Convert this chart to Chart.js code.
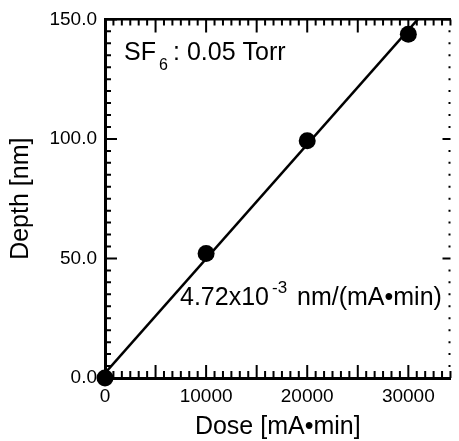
<!DOCTYPE html>
<html>
<head>
<meta charset="utf-8">
<script src="https://cdn.jsdelivr.net/npm/chart.js@4"></script>
<style>
html,body{margin:0;padding:0;background:#fff;}
canvas{display:block;}
</style>
</head>
<body>
<canvas id="c" width="459" height="441"></canvas>
<script>
// ---- data ----
const doseValues  = [0, 10000, 20000, 30000];
const depthValues = [0, 52.1, 99.2, 143.8];
// fitted line (end points)
const fitDose  = [0, 30930];
const fitDepth = [2.0, 150];
// axis ticks
const xTickValues = [0, 10000, 20000, 30000];
const xTickLabels = ['0', '10000', '20000', '30000'];
const yTickValues = [0, 50, 100, 150];
const yTickLabels = ['0.0', '50.0', '100.0', '150.0'];
const xTitle = 'Dose [mA•min]';
const yTitle = 'Depth [nm]';
const X_MIN = 0, X_MAX = 34170, Y_MIN = 0, Y_MAX = 150;
const X_MAJOR_STEP = 5000, X_MINOR_PER_MAJOR = 6;
const Y_MAJOR_STEP = 50, Y_MINOR_STEP = 5;

const FAMILY = "'Liberation Sans', Arial, Helvetica, sans-serif";
Chart.defaults.font.family = FAMILY;
Chart.defaults.color = '#000';

const points = doseValues.map((d, i) => ({x: d, y: depthValues[i]}));
const fitLine = fitDose.map((d, i) => ({x: d, y: fitDepth[i]}));

// inward tick marks on all four sides, positioned through the chart scales
const tickMarks = {
  id: 'tickMarks',
  beforeDatasetsDraw(chart) {
    const {ctx, chartArea: a, scales: {x, y}} = chart;
    ctx.save();
    ctx.strokeStyle = '#000';
    ctx.lineWidth = 2;
    ctx.beginPath();
    const xStep = X_MAJOR_STEP / X_MINOR_PER_MAJOR;
    const nx = Math.floor((X_MAX - X_MIN) / xStep + 1e-9);
    for (let i = 0; i <= nx; i++) {
      const px = x.getPixelForValue(X_MIN + i * xStep);
      const major = i % X_MINOR_PER_MAJOR === 0;
      ctx.moveTo(px, a.bottom); ctx.lineTo(px, a.bottom - (major ? 13 : 7));
      ctx.moveTo(px, a.top);    ctx.lineTo(px, a.top + (major ? 13 : 6));
    }
    const ny = Math.round((Y_MAX - Y_MIN) / Y_MINOR_STEP);
    for (let j = 0; j <= ny; j++) {
      const v = Y_MIN + j * Y_MINOR_STEP;
      const py = y.getPixelForValue(v);
      const major = v % Y_MAJOR_STEP === 0;
      ctx.moveTo(a.left, py);  ctx.lineTo(a.left + (major ? 12 : 6), py);
      ctx.moveTo(a.right, py); ctx.lineTo(a.right - (major ? 8 : 2), py);
    }
    ctx.stroke();
    ctx.restore();
  }
};

// text annotations inside the plot
const annotations = {
  id: 'annotations',
  afterDraw(chart) {
    const {ctx, chartArea: a} = chart;
    const F = s => s + 'px ' + FAMILY;
    const L = a.left, T = a.top;
    ctx.save();
    ctx.fillStyle = '#000';
    ctx.textAlign = 'left';
    ctx.textBaseline = 'alphabetic';
    ctx.font = F(25); ctx.fillText('SF', L + 19, T + 41);
    ctx.font = F(16); ctx.fillText('6', L + 54, T + 51);
    ctx.font = F(25); ctx.fillText(': 0.05 Torr', L + 68, T + 41);
    ctx.font = F(25); ctx.fillText('4.72x10', L + 75, T + 286);
    ctx.font = F(17); ctx.fillText('-3', L + 167, T + 274);
    ctx.font = F(25); ctx.fillText('nm/(mA•min)', L + 192, T + 286);
    ctx.restore();
  }
};

new Chart(document.getElementById('c'), {
  type: 'scatter',
  data: {
    datasets: [
      {
        label: 'Depth',
        data: points,
        backgroundColor: '#000',
        borderColor: '#000',
        borderWidth: 0,
        pointRadius: 8.5,
        pointHoverRadius: 8.5,
        clip: false
      },
      {
        label: 'Fit',
        data: fitLine,
        showLine: true,
        borderColor: '#000',
        borderWidth: 2.5,
        pointRadius: 0,
        pointHoverRadius: 0,
        fill: false
      }
    ]
  },
  options: {
    responsive: false,
    animation: false,
    devicePixelRatio: 1,
    layout: {padding: 0},
    plugins: {legend: {display: false}, tooltip: {enabled: false}},
    scales: {
      x: {
        type: 'linear', position: 'bottom', min: X_MIN, max: X_MAX,
        afterBuildTicks: s => { s.ticks = xTickValues.map(v => ({value: v})); },
        afterFit: s => { s.height = 63; },
        grid: {display: false, drawTicks: false},
        border: {display: true, color: '#000', width: 3},
        ticks: {
          color: '#000', font: {size: 19}, padding: 7, maxRotation: 0, autoSkip: false,
          callback: v => xTickLabels[xTickValues.indexOf(v)]
        },
        title: {display: true, text: xTitle, color: '#000', font: {size: 25, lineHeight: 1}, padding: {top: 0, bottom: 1}}
      },
      y: {
        type: 'linear', position: 'left', min: Y_MIN, max: Y_MAX,
        afterBuildTicks: s => { s.ticks = yTickValues.map(v => ({value: v})); },
        afterFit: s => { s.width = 105; },
        grid: {display: false, drawTicks: false},
        border: {display: true, color: '#000', width: 3},
        ticks: {
          color: '#000', font: {size: 19}, padding: 8,
          callback: v => yTickLabels[yTickValues.indexOf(v)]
        },
        title: {display: true, text: yTitle, color: '#000', font: {size: 25, lineHeight: 1}, padding: {top: 9, bottom: 0}}
      },
      x2: {
        type: 'linear', position: 'top', min: X_MIN, max: X_MAX,
        afterFit: s => { s.height = 19; },
        grid: {display: false, drawTicks: false},
        border: {display: true, color: '#000', width: 2.5},
        ticks: {display: false}
      },
      y2: {
        type: 'linear', position: 'right', min: Y_MIN, max: Y_MAX,
        afterFit: s => { s.width = 1; },
        grid: {display: false, drawTicks: false},
        border: {display: false},
        ticks: {display: false}
      }
    }
  },
  plugins: [tickMarks, annotations]
});
</script>
</body>
</html>
